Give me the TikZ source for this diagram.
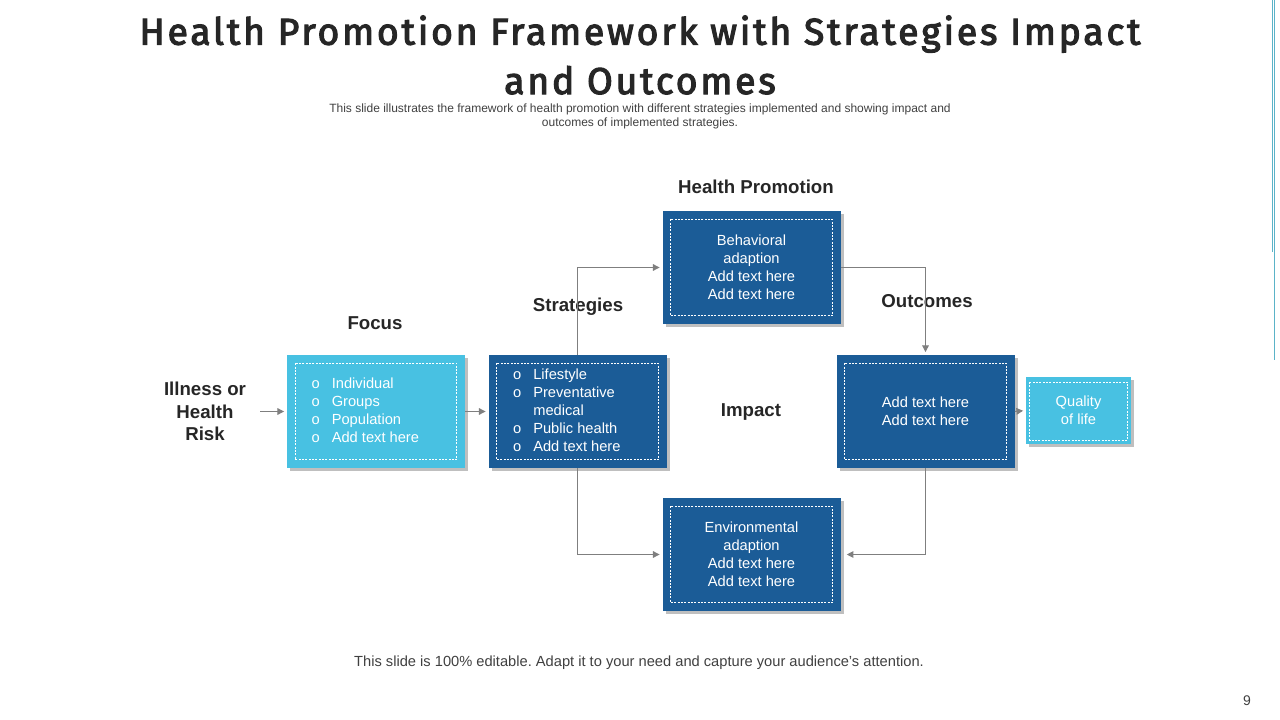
\documentclass[tikz,border=0pt]{standalone}
\usepackage{fontspec}
\setmainfont{Liberation Sans}
\newfontfamily\titlefont{Fira Sans}[LetterSpace=7.5, FakeBold=3]
\usetikzlibrary{arrows.meta, positioning, calc, shadows}
\definecolor{hpdark}{HTML}{1B5C97}
\definecolor{hplight}{HTML}{48C1E2}
\definecolor{hparrow}{HTML}{7F7F7F}
\definecolor{hptext}{HTML}{262626}
\definecolor{hpgrey}{HTML}{404040}
\definecolor{hpteal}{HTML}{5BB3C8}

\begin{document}
\begin{tikzpicture}[x=0.75pt, y=-0.75pt,
    box/.style={minimum width=133.5pt, minimum height=84.75pt, inner sep=0pt,
                text=white, font=\fontsize{11}{13.5}\selectfont, align=center,
                drop shadow={shadow xshift=2.5pt, shadow yshift=-2.5pt,
                             opacity=0.25, fill=black}},
    darkbox/.style={box, fill=hpdark},
    lightbox/.style={box, fill=hplight},
    heading/.style={font=\fontsize{14}{17}\selectfont\bfseries, text=hptext,
                    align=center},
    link/.style={draw=hparrow, line width=0.75pt, shorten >=2pt,
                 -{Triangle[length=5pt, width=5pt]}},
    innerline/.style={draw=white, line width=0.5pt,
                      dash pattern=on 1.5pt off 1pt}]
  \useasboundingbox (0,0) rectangle (1280,720);

  % title and notes
  \node[font=\titlefont\fontsize{28}{37}\selectfont, text=hptext,
        align=center, inner sep=0pt] (title) at (640,55)
    {Health Promotion Framework with Strategies Impact\\and Outcomes};
  \node[font=\fontsize{9}{10.5}\selectfont, text=hpgrey, align=center,
        inner sep=0pt] (subtitle) at (640,116.5)
    {This slide illustrates the framework of health promotion with different
     strategies implemented and showing impact and\\outcomes of implemented
     strategies.};
  \node[font=\fontsize{11}{13}\selectfont, text=hpgrey] (footer) at (639,663)
    {This slide is 100\% editable.\ Adapt it to your need and capture your
     audience's attention.};
  \node[font=\fontsize{10.5}{12}\selectfont, text=hpgrey] (pagenum) at (1247,701) {9};
  \draw[hpteal, line width=0.6pt] (1272,0) -- (1272,252);
  \draw[hpteal, line width=0.6pt] (1274,0) -- (1274,360);

  % boxes
  \node[lightbox] (focus) at (376,411.5)
    {\begin{tabular}{@{}l@{\hspace{9pt}}l@{\hspace{16pt}}}
       o & Individual\\ o & Groups\\ o & Population\\ o & Add text here
     \end{tabular}};
  \node[darkbox] (strat) at (577.5,411.5)
    {\begin{tabular}{@{}l@{\hspace{9pt}}l@{\hspace{16pt}}}
       o & Lifestyle\\ o & Preventative\\ & medical\\ o & Public health\\
       o & Add text here
     \end{tabular}};
  \node[darkbox] (behav) at (751.5,267.5)
    {Behavioral\\adaption\\Add text here\\Add text here};
  \node[darkbox] (envir) at (751.5,554.5)
    {Environmental\\adaption\\Add text here\\Add text here};
  \node[darkbox] (outc) at (925.5,411.5) {Add text here\\Add text here};
  \node[lightbox, minimum width=78.75pt, minimum height=50.25pt] (quality)
    at (1078.5,410.5) {Quality\\of life};

  \foreach \b in {focus, strat, behav, envir, outc}
    \draw[innerline] ([shift={(6.4pt,-6.4pt)}]\b.north west) rectangle
                     ([shift={(-6.4pt,6.4pt)}]\b.south east);
  \draw[innerline] ([shift={(3pt,-4pt)}]quality.north west) rectangle
                   ([shift={(-3pt,3pt)}]quality.south east);

  % headings
  \node[heading] (illness) at (205,411.5) {Illness or\\Health\\Risk};
  \node[heading] (focuslbl) at (375,323) {Focus};
  \node[heading] (stratlbl) at (578,307) {Strategies};
  \node[heading] (promolbl) at (756,187) {Health Promotion};
  \node[heading] (outclbl) at (927,301) {Outcomes};
  \node[heading] (impactlbl) at (751,412) {Impact};

  % connectors
  \draw[link, shorten <=7pt] (illness.east) -- (focus.west);
  \draw[link] (focus.east) -- (strat.west);
  \draw[link] (strat.north) |- (behav.west);
  \draw[link] (strat.south) |- (envir.west);
  \draw[link] (behav.east) -| (outc.north);
  \draw[link, shorten >=4.5pt] (outc.south) |- (envir.east);
  \draw[link] (outc.east) -- (quality.west);
\end{tikzpicture}
\end{document}
